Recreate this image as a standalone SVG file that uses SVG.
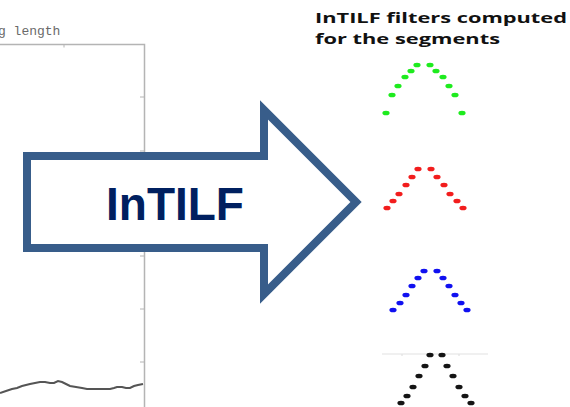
<svg xmlns="http://www.w3.org/2000/svg" width="570" height="407" viewBox="0 0 570 407">
<style>
.axis{stroke:#b4b4b4;stroke-width:1.5;fill:none}
.tick{stroke:#b4b4b4;stroke-width:1;fill:none}
.g{fill:#1EEB1E}.r{fill:#F21D1D}.b{fill:#1010F0}.k{fill:#141414}
.title{font-family:"Open Sans","Liberation Sans",sans-serif;font-weight:bold;font-size:15px;fill:#111}
</style>
<defs>
<ellipse id="d" rx="3.6" ry="2.3"/>
</defs>
<rect width="570" height="407" fill="#fff"/>
<g id="plot">
<text x="-2" y="35" font-family="Liberation Mono, monospace" font-size="13" fill="#6a6a6a">g length</text>
<path class="axis" d="M0 44.5H144.5V407"/>
<path class="tick" d="M64 44.5v3M144 97h-4M144 151h-4M144 204h-4M144 256h-4M144 309h-4M144 362h-4"/>
<polyline fill="none" stroke="#555" stroke-width="2" points="0,393 6,391 12,389 17,388 22,386 26,385 30,384 35,383 40,382 45,382 50,383 54,383 58,381 62,382 66,384 70,386 76,387 82,388 87,389 93,389 100,389 106,389 110,389 114,388 117,387 122,387 126,388 130,388 134,386 138,385 143,384"/>
</g>
<g id="intilf-arrow">
<path d="M27 156H264V110L356 202L264 294V248H27Z" fill="#fff" stroke="#385D8A" stroke-width="8" stroke-miterlimit="10"/>
<text x="175" y="220" text-anchor="middle" font-family="Liberation Sans, Arial, sans-serif" font-weight="bold" font-size="46" fill="#002060">InTILF</text>
</g>
<g id="title">
<text class="title" x="315" y="23" textLength="252" lengthAdjust="spacingAndGlyphs">InTILF filters computed</text>
<text class="title" x="315" y="44" textLength="185" lengthAdjust="spacingAndGlyphs">for the segments</text>
</g>
<g id="filter-green" class="g">
<use href="#d" x="386" y="113"/><use href="#d" x="392" y="95"/><use href="#d" x="398" y="86"/><use href="#d" x="405" y="77"/><use href="#d" x="411" y="71"/><use href="#d" x="417" y="65"/>
<use href="#d" x="430" y="65"/><use href="#d" x="436" y="71"/><use href="#d" x="443" y="77"/><use href="#d" x="449" y="86"/><use href="#d" x="455" y="95"/><use href="#d" x="462" y="113"/>
</g>
<g id="filter-red" class="r">
<use href="#d" x="387" y="208"/><use href="#d" x="393" y="201"/><use href="#d" x="399" y="194"/><use href="#d" x="406" y="185"/><use href="#d" x="412" y="177"/><use href="#d" x="418" y="169"/>
<use href="#d" x="431" y="169"/><use href="#d" x="437" y="177"/><use href="#d" x="444" y="185"/><use href="#d" x="450" y="194"/><use href="#d" x="457" y="201"/><use href="#d" x="463" y="208"/>
</g>
<g id="filter-blue" class="b">
<use href="#d" x="393" y="310"/><use href="#d" x="400" y="303"/><use href="#d" x="406" y="295"/><use href="#d" x="412" y="286"/><use href="#d" x="418" y="278"/><use href="#d" x="424" y="271"/>
<use href="#d" x="437" y="271"/><use href="#d" x="443" y="278"/><use href="#d" x="449" y="286"/><use href="#d" x="455" y="295"/><use href="#d" x="461" y="303"/><use href="#d" x="467" y="310"/>
</g>
<g id="filter-black">
<path d="M382 354H488M402 354v2M459 354v2" stroke="#e2e2e2" stroke-width="1.2" fill="none"/>
<g class="k">
<use href="#d" x="401" y="403"/><use href="#d" x="407" y="396"/><use href="#d" x="413" y="387"/><use href="#d" x="419" y="376"/><use href="#d" x="425" y="366"/><use href="#d" x="430" y="355"/>
<use href="#d" x="442" y="355"/><use href="#d" x="447" y="366"/><use href="#d" x="453" y="376"/><use href="#d" x="459" y="387"/><use href="#d" x="465" y="396"/><use href="#d" x="471" y="403"/>
</g>
</g>
<g id="connectors"/>
</svg>
